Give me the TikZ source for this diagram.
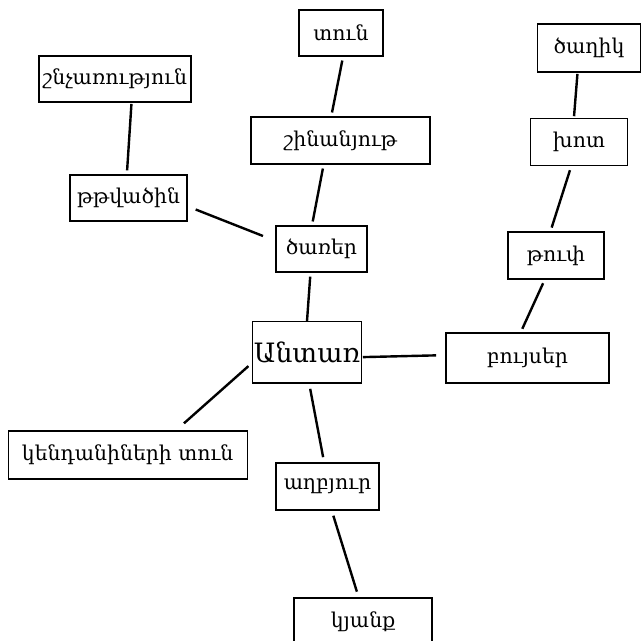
\documentclass[tikz,border=0pt]{standalone}
\usepackage{fontspec}
\setmainfont{DejaVu Serif}

\begin{document}
\begin{tikzpicture}[x=0.75pt,y=-0.75pt,
    box/.style={draw, line width=0.9pt, inner sep=0pt, font=\fontsize{15.3}{18}\selectfont},
    link/.style={line width=1.8pt, shorten <=3pt, shorten >=3pt}]

    \useasboundingbox (0,0) rectangle (641,640);

    %% Forest word map

    % Centre
    \node[box, minimum width=81.75pt, minimum height=46pt, font=\fontsize{20}{24}\selectfont] (antar) at (307,352.3) {Անտառ};

    % Upper branch
    \node[box, minimum width=68.25pt, minimum height=34.5pt] (tsar) at (321.5,249) {ծառեր};
    \node[box, minimum width=134.25pt, minimum height=35.25pt] (shin) at (340.5,140.5) {շինանյութ};
    \node[box, minimum width=63pt, minimum height=34.5pt] (tun) at (341,33) {տուն};
    \node[box, minimum width=87.75pt, minimum height=34.5pt] (ttv) at (128.5,198) {թթվածին};
    \node[box, minimum width=114pt, minimum height=34.5pt] (shnch) at (115,79) {շնչառություն};

    % Right branch
    \node[box, minimum width=122.25pt, minimum height=37.5pt] (buyser) at (527.5,358) {բույսեր};
    \node[box, minimum width=72pt, minimum height=35.25pt] (tup) at (556,255.5) {թուփ};
    \node[box, minimum width=72.75pt, minimum height=35.25pt] (khot) at (579,142.3) {խոտ};
    \node[box, minimum width=77.25pt, minimum height=36pt] (tsaghik) at (589,48) {ծաղիկ};

    % Lower branch
    \node[box, minimum width=179.25pt, minimum height=36pt] (kend) at (127.7,455) {կենդանիների տուն};
    \node[box, minimum width=77.25pt, minimum height=35.25pt] (aghbyur) at (327.5,486.5) {աղբյուր};
    \node[box, minimum width=103.5pt, minimum height=36pt] (kyank) at (363,622) {կյանք};

    % Links
    \draw[link] (tun.-85.6) -- (shin.111.4);
    \draw[link] (shin.-125.2) -- (tsar.112.2);
    \draw[link, shorten <=1pt] (shnch.-55.2) -- (ttv.94.2);
    \draw[link, shorten <=6.5pt, shorten >=10pt] (ttv.-8.5) -- (tsar.170.4);
    \draw[link, shorten >=0pt] (tsar.-115.8) -- (antar.90.6);
    \draw[link, shorten <=0.5pt, shorten >=7pt] (antar.-5.6) -- (buyser.178.2);
    \draw[link] (buyser.105.5) -- (tup.-115.5);
    \draw[link] (tup.103.4) -- (khot.-108);
    \draw[link, shorten <=1.5pt, shorten >=1pt] (khot.102.6) -- (tsaghik.-115);
    \draw[link, shorten <=3.5pt, shorten >=8pt] (antar.191) -- (kend.27.7);
    \draw[link, shorten <=4pt, shorten >=4pt] (antar.-86.1) -- (aghbyur.98.7);
    \draw[link, shorten <=4pt, shorten >=4.5pt] (aghbyur.-80.3) -- (kyank.100.4);

\end{tikzpicture}
\end{document}
